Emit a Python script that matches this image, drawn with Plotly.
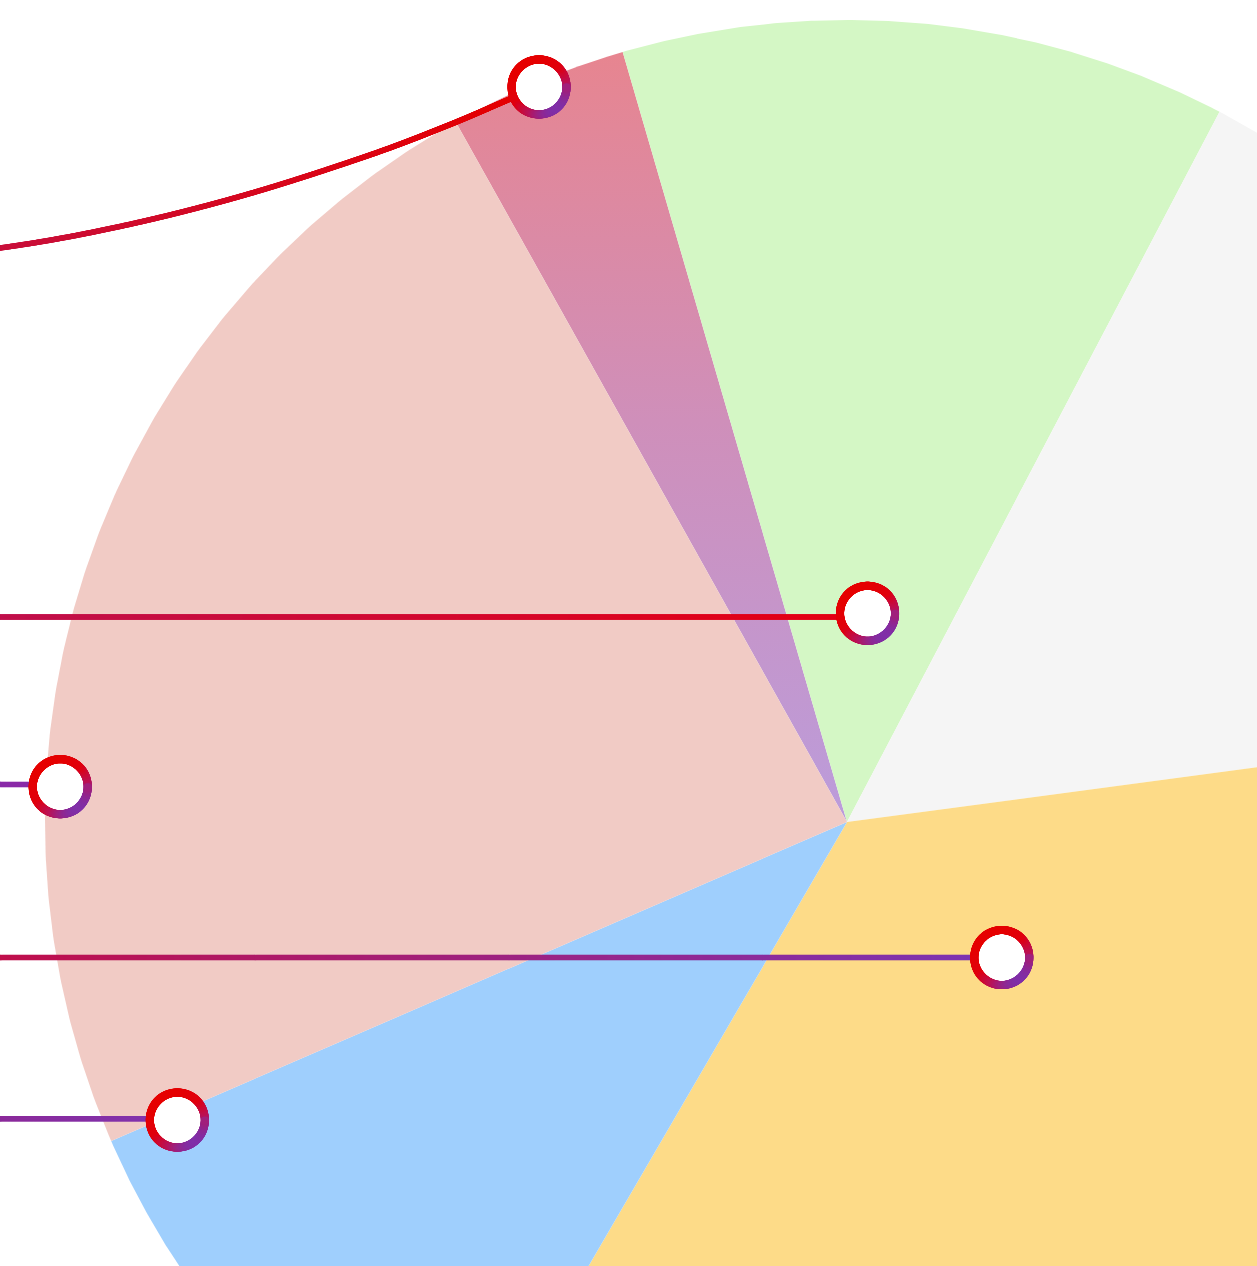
import numpy as np
import plotly.graph_objects as go

# ---------------- data ----------------
# pie slices (clockwise, starting at start_angle measured from 12 o'clock)
slice_names = ["A", "B", "C", "D", "E", "F"]
slice_values = [3.6, 12.2, 15.2, 35.5, 10.1, 23.4]
slice_colors = ["#e8868e", "#d4f7c5", "#f5f5f5", "#fddb88", "#9fcffd", "#f1cbc5"]
start_angle = -29.2

# point series, in pie-radius units (pie centre = 0,0 ; radius = 1)
point_x = [-0.384, 0.0256, -0.981, 0.193, -0.835]
point_y = [0.9165, 0.2602, 0.0440, -0.1690, -0.3716]
# y of each horizontal leader (first point uses the curve below)
line_y = [None, 0.2556, 0.0468, -0.1690, -0.3700]

# leader curve for the first point
curve_x = [-1.2431, -1.0561, -0.9040, -0.7506, -0.5985, -0.4963, -0.4202, -0.3840]
curve_y = [0.6958, 0.7157, 0.7431, 0.7818, 0.8304, 0.8691, 0.9015, 0.9165]

# leader colours (left end, right end) for each point
line_colors = [("#c8103c", "#e60000"), ("#c0104c", "#e50012"), ("#8a2aa8", "#8a2aa8"),
               ("#c0104c", "#7b35b5"), ("#8b2a9a", "#8035b0")]
line_start_x = -1.20

# ---------------- helpers ----------------
X_RANGE = [-1.0561, 0.5112]
Y_RANGE = [-0.5536, 1.0249]
PX = 802.0  # pixels per unit


def hex2rgb(h):
    h = h.lstrip("#")
    return np.array([int(h[i:i + 2], 16) for i in (0, 2, 4)], dtype=float)


def mix(c1, c2, t):
    t = np.clip(t, 0, 1)
    a, b = hex2rgb(c1), hex2rgb(c2)
    return [f"rgb({int(round(v[0]))},{int(round(v[1]))},{int(round(v[2]))})"
            for v in (a[None, :] * (1 - t)[:, None] + b[None, :] * t[:, None])]


def scale_color(stops, t):
    t = np.clip(np.asarray(t, float), 0, 1)
    out = []
    pos = [s[0] for s in stops]
    cols = [hex2rgb(s[1]) for s in stops]
    for v in t:
        i = np.searchsorted(pos, v, side="right") - 1
        i = min(max(i, 0), len(pos) - 2)
        f = (v - pos[i]) / (pos[i + 1] - pos[i])
        c = cols[i] * (1 - f) + cols[i + 1] * f
        out.append(f"rgb({int(round(c[0]))},{int(round(c[1]))},{int(round(c[2]))})")
    return out


def catmull(xs, ys, n=60):
    P = np.column_stack([xs, ys])
    P = np.vstack([P[0] * 2 - P[1], P, P[-1] * 2 - P[-2]])
    res = []
    for i in range(1, len(P) - 2):
        p0, p1, p2, p3 = P[i - 1], P[i], P[i + 1], P[i + 2]
        t = np.linspace(0, 1, n, endpoint=False)[:, None]
        pts = 0.5 * ((2 * p1) + (-p0 + p2) * t + (2 * p0 - 5 * p1 + 4 * p2 - p3) * t ** 2
                     + (-p0 + 3 * p1 - 3 * p2 + p3) * t ** 3)
        res.append(pts)
    res.append(P[-2][None, :])
    return np.vstack(res)


fig = go.Figure()

# ---------------- pie wedges ----------------
total = sum(slice_values)
ang = start_angle
for name, v, col in zip(slice_names, slice_values, slice_colors):
    span = v / total * 360.0
    th = np.radians(np.linspace(ang, ang + span, 200))
    xs = np.concatenate([[0], np.sin(th), [0]])
    ys = np.concatenate([[0], np.cos(th), [0]])
    kw = dict(fillcolor=col)
    if name == "A":
        kw = dict(fillgradient=dict(type="vertical", start=0, stop=1.0,
                                    colorscale=[[0, "#bb9cdb"], [0.5, "#cf8fba"], [1, "#e9848c"]]))
    fig.add_trace(go.Scatter(x=xs, y=ys, mode="lines", fill="toself", line=dict(width=0),
                             hoverinfo="skip", name=name, **kw))
    ang += span

# ---------------- leader lines (gradient, drawn densely) ----------------
step = 1.0 / PX
left_px_x = X_RANGE[0]
for i, (px_, py_) in enumerate(zip(point_x, point_y)):
    if i == 0:
        pts = catmull(curve_x, curve_y, n=200)
        lx, ly = pts[:, 0], pts[:, 1]
    else:
        n = int((px_ - line_start_x) / step) + 1
        lx = np.linspace(line_start_x, px_, n)
        ly = np.full(n, line_y[i])
    t = (lx - left_px_x) / (px_ - left_px_x)
    cols = mix(line_colors[i][0], line_colors[i][1], t)
    fig.add_trace(go.Scatter(x=lx, y=ly, mode="markers",
                             marker=dict(size=5.5, color=cols, line=dict(width=0)),
                             hoverinfo="skip"))

# ---------------- point markers ----------------
fig.add_trace(go.Scatter(x=point_x, y=point_y, mode="markers",
                         marker=dict(size=48, color="white", line=dict(width=0)),
                         hoverinfo="skip"))
ring_r = 27.5 / PX
phi = np.linspace(0, 2 * np.pi, 400, endpoint=False)
ring_stops = [(0, "#e60000"), (0.45, "#e0000f"), (0.75, "#b8145a"), (1, "#8030a8")]
for px_, py_ in zip(point_x, point_y):
    dx, dy = np.cos(phi), np.sin(phi)
    t = (dx - dy) / (2 * np.sqrt(2)) + 0.5
    fig.add_trace(go.Scatter(x=px_ + ring_r * dx, y=py_ + ring_r * dy, mode="markers",
                             marker=dict(size=8, color=scale_color(ring_stops, t), line=dict(width=0)),
                             hoverinfo="skip"))

fig.update_layout(
    width=1257, height=1266,
    margin=dict(l=0, r=0, t=0, b=0),
    paper_bgcolor="white", plot_bgcolor="white",
    showlegend=False,
    xaxis=dict(range=X_RANGE, visible=False, fixedrange=True),
    yaxis=dict(range=Y_RANGE, visible=False, fixedrange=True),
)

fig.write_html("out.html", config={"displayModeBar": False},
               post_script="document.body.style.margin='0';document.body.style.overflow='hidden';")
